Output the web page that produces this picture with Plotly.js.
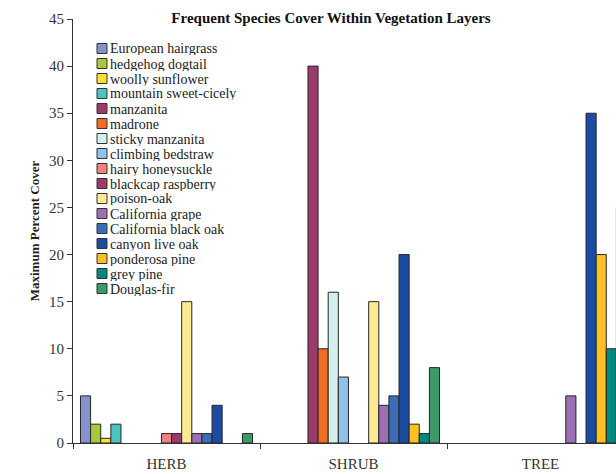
<!DOCTYPE html>
<html>
<head>
<meta charset="utf-8">
<script src="https://cdn.plot.ly/plotly-3.0.1.min.js"></script>
<style>
html, body { margin: 0; padding: 0; overflow: hidden; background: #fff; }
#chart { width: 652px; height: 474px; }
</style>
</head>
<body>
<div id="chart"></div>
<script>
// ---- data ----
const categories = ['HERB', 'SHRUB', 'TREE'];
const species = [
  'European hairgrass', 'hedgehog dogtail', 'woolly sunflower', 'mountain sweet-cicely',
  'manzanita', 'madrone', 'sticky manzanita', 'climbing bedstraw', 'hairy honeysuckle',
  'blackcap raspberry', 'poison-oak', 'California grape', 'California black oak',
  'canyon live oak', 'ponderosa pine', 'grey pine', 'Douglas-fir'
];
const herbCover  = [5, 2, 0.5, 2, 0, 0, 0, 0, 1, 1, 15, 1, 1, 4, 0, 0, 1];
const shrubCover = [0, 0, 0, 0, 40, 10, 16, 7, 0, 0, 15, 4, 5, 20, 2, 1, 8];
const treeCover  = [0, 0, 0, 0, 0, 0, 0, 0, 0, 0, 0, 5, 0, 35, 20, 10, 25];
const colors = [
  '#8891c9', '#a8c83a', '#fde02a', '#4bc3c0', '#9b3b6c', '#f36c21', '#d4eeec',
  '#8ec2ea', '#f2807f', '#9b3b6c', '#ffea94', '#9c70b4', '#3a6db7', '#1b4ca1',
  '#fdc024', '#00897f', '#3b9a68'
];

// ---- layout geometry ----
const W = 652, H = 474;
const M = { l: 73, r: 18, t: 19, b: 31 };
const plotW = W - M.l - M.r, plotH = H - M.t - M.b;
const serif = 'Liberation Serif, Times New Roman, serif';
const lineCol = '#333';

// zero cover is shown as no bar (no outline stroke on the baseline)
const noZero = v => (v === 0 ? null : v);

const traces = species.map((name, i) => ({
  type: 'bar',
  name: name,
  x: categories,
  y: [herbCover[i], shrubCover[i], treeCover[i]].map(noZero),
  marker: { color: colors[i], line: { color: '#262626', width: 1 } },
  showlegend: false,
  hoverinfo: 'name+y'
}));

// custom legend (compact spacing)
const shapes = [];
const annotations = [];
const legX = 97, legY0 = 48.5, legStep = 15, sq = 10;
species.forEach((name, i) => {
  const yc = legY0 + i * legStep;
  shapes.push({
    type: 'rect', xref: 'paper', yref: 'paper',
    x0: (legX - M.l) / plotW, x1: (legX + sq - M.l) / plotW,
    y0: (H - M.b - (yc + sq / 2)) / plotH, y1: (H - M.b - (yc - sq / 2)) / plotH,
    fillcolor: colors[i], line: { color: '#333', width: 1 }
  });
  annotations.push({
    xref: 'paper', yref: 'paper', showarrow: false,
    x: (legX + sq + 2 - M.l) / plotW, xanchor: 'left',
    y: (H - M.b - yc) / plotH, yanchor: 'middle',
    height: 14, valign: 'middle', borderpad: 0,
    text: name, font: { family: serif, size: 14, color: '#222' }
  });
});

const layout = {
  width: W, height: H,
  margin: M,
  paper_bgcolor: '#fff', plot_bgcolor: '#fff',
  bargap: 0.08, bargroupgap: 0, barmode: 'group',
  title: {
    text: 'Frequent Species Cover Within Vegetation Layers',
    font: { family: serif, size: 15, color: '#111', weight: 'bold' },
    xref: 'container', yref: 'container',
    x: 331 / W, xanchor: 'center', y: 1 - 18 / H, yanchor: 'middle'
  },
  xaxis: {
    type: 'category', categoryorder: 'array', categoryarray: categories,
    range: [-0.5, 2.5],
    showline: true, linecolor: lineCol, linewidth: 1,
    ticks: 'outside', tickson: 'boundaries', ticklen: 5, tickcolor: lineCol,
    tickfont: { family: serif, size: 15, color: '#333' },
    ticklabelstandoff: 7,
    showgrid: false, zeroline: false, automargin: false
  },
  xaxis2: {
    overlaying: 'x', anchor: 'y', range: [-0.5, 2.5],
    tick0: -0.5, dtick: 1, ticks: 'inside', ticklen: 4, tickcolor: lineCol,
    showticklabels: false, showline: false, showgrid: false, zeroline: false
  },
  yaxis: {
    range: [0, 45], dtick: 5, tick0: 0,
    showline: true, linecolor: lineCol, linewidth: 1,
    ticks: 'outside', ticklen: 5, tickcolor: lineCol,
    tickfont: { family: serif, size: 15, color: '#333' },
    showgrid: false, zeroline: false, automargin: false,
    title: {
      text: 'Maximum Percent Cover', standoff: 6,
      font: { family: serif, size: 13, color: '#222', weight: 'bold' }
    }
  },
  yaxis2: {
    overlaying: 'y', anchor: 'x', side: 'left', range: [0, 45], dtick: 5, tick0: 0,
    ticks: 'inside', ticklen: 5, tickcolor: lineCol,
    showticklabels: false, showline: false, showgrid: false, zeroline: false
  },
  shapes: shapes,
  annotations: annotations
};

Plotly.newPlot('chart', traces, layout, { displayModeBar: false, staticPlot: true });
</script>
</body>
</html>
